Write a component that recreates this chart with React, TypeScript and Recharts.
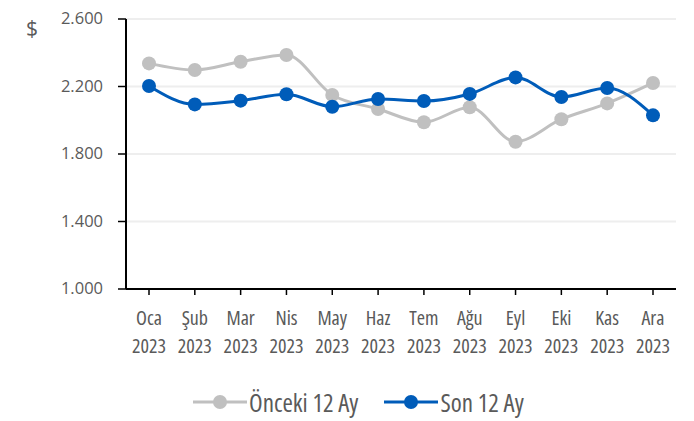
import React from 'react';
import { LineChart, Line, XAxis, YAxis, CartesianGrid, Legend } from 'recharts';

const months = ['Oca', 'Şub', 'Mar', 'Nis', 'May', 'Haz', 'Tem', 'Ağu', 'Eyl', 'Eki', 'Kas', 'Ara'];
const years = ['2023', '2023', '2023', '2023', '2023', '2023', '2023', '2023', '2023', '2023', '2023', '2023'];
const onceki = [2337, 2298, 2347, 2387, 2150, 2067, 1988, 2077, 1873, 2006, 2100, 2221];
const son = [2203, 2094, 2116, 2154, 2080, 2126, 2114, 2156, 2254, 2138, 2191, 2029];
const yTicks = [1000, 1400, 1800, 2200, 2600];
const seriesNames = ['Önceki 12 Ay', 'Son 12 Ay'];

const data = months.map((m, i) => ({ m, y: years[i], onceki: onceki[i], son: son[i] }));

const FONT = '"Open Sans", sans-serif';
const WEIGHT = 400;
const GRAY = '#c0c0c0';
const BLUE = '#005cb9';
const TEXT = '#5a5a5a';

const fmt = (v: number) => v.toLocaleString('de-DE');

const XTick = (props: any) => {
  const { x, y, payload, index } = props;
  return (
    <g transform={`translate(${x},${y})`}>
      <text x={0} y={0} dy={28} textAnchor="middle" fill={TEXT} fontSize={20} fontWeight={WEIGHT} fontFamily={FONT} style={{ fontStretch: '87.5%' }}>{payload.value}</text>
      <text x={0} y={0} dy={56} textAnchor="middle" fill={TEXT} fontSize={20} fontWeight={WEIGHT} fontFamily={FONT} style={{ fontStretch: '87.5%' }}>{years[index] ?? '2023'}</text>
    </g>
  );
};

const YTick = (props: any) => {
  const { x, y, payload } = props;
  return (
    <text x={x} y={y} dy={5} textAnchor="end" fill={TEXT} fontSize={16.5} fontWeight={WEIGHT} fontFamily={FONT} style={{ fontStretch: '100%' }}>{fmt(payload.value)}</text>
  );
};

const LegendContent = () => (
  <div style={{ display: 'flex', alignItems: 'center', fontFamily: FONT, fontStretch: '80%', fontWeight: WEIGHT, fontSize: 25, color: TEXT, height: 28, lineHeight: '28px' }}>
    {[{ name: seriesNames[0], c: GRAY }, { name: seriesNames[1], c: BLUE }].map((it, i) => (
      <div key={i} style={{ display: 'flex', alignItems: 'center', marginRight: i === 0 ? 26 : 0 }}>
        <svg width={54} height={16}>
          <line x1={0} y1={8} x2={54} y2={8} stroke={it.c} strokeWidth={3} />
          <circle cx={27} cy={8} r={7} fill={it.c} />
        </svg>
        <span style={{ marginLeft: 2, whiteSpace: 'nowrap' }}>{it.name}</span>
      </div>
    ))}
  </div>
);

export default function App() {
  return (
    <div style={{ position: 'absolute', left: 0, top: 0, width: 694, height: 421, background: '#fff' }}>
      <LineChart width={694} height={421} data={data} margin={{ top: 19, right: 18, bottom: 0, left: 0 }}>
        <CartesianGrid vertical={false} stroke="#eeeeee" strokeWidth={2} />
        <XAxis
          dataKey="m"
          interval={0}
          height={104}
          padding={{ left: 23, right: 23 }}
          axisLine={{ stroke: '#000', strokeWidth: 2 }}
          tickLine={{ stroke: '#000', strokeWidth: 1.5 }}
          tickSize={6}
          tick={<XTick />}
        />
        <YAxis
          domain={[1000, 2600]}
          ticks={yTicks}
          width={126}
          interval={0}
          axisLine={{ stroke: '#000', strokeWidth: 2 }}
          tickLine={{ stroke: '#000', strokeWidth: 1.5 }}
          tickSize={8}
          tickMargin={15}
          tick={<YTick />}
          label={{ value: '$', position: 'insideTopLeft', offset: 0, dx: 26, dy: 2, fill: TEXT, fontSize: 21, fontWeight: WEIGHT, fontFamily: FONT }}
        />
        <Legend verticalAlign="bottom" height={28} wrapperStyle={{ bottom: 5, left: 193, width: 'auto', height: 28 }} content={<LegendContent />} />
        <Line type="monotone" dataKey="onceki" name={seriesNames[0]} stroke={GRAY} strokeWidth={3} dot={{ r: 7, fill: GRAY, stroke: GRAY, strokeWidth: 0 }} activeDot={false} isAnimationActive={false} />
        <Line type="monotone" dataKey="son" name={seriesNames[1]} stroke={BLUE} strokeWidth={3} dot={{ r: 7, fill: BLUE, stroke: BLUE, strokeWidth: 0 }} activeDot={false} isAnimationActive={false} />
      </LineChart>
    </div>
  );
}
